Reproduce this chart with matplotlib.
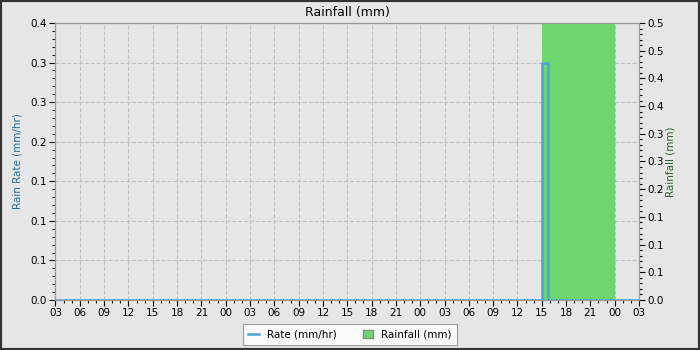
import matplotlib
matplotlib.use('Agg')
import matplotlib.pyplot as plt
from matplotlib.ticker import MultipleLocator, FixedLocator
from matplotlib.patches import Patch
from matplotlib.lines import Line2D

# hours since 03:00 on the first day
rate_hours = [0, 60.0, 60.75, 72]
rate_values = [0.0, 0.3, 0.0, 0.0]
rain_hours = [0, 60.05, 69.0, 69.1, 72]
rain_values = [0.0, 0.5, 0.25, 0.0, 0.0]

x_tick_labels = ['03', '06', '09', '12', '15', '18', '21', '00'] * 3 + ['03']
left_ticks = [0.0, 0.05, 0.1, 0.15, 0.2, 0.25, 0.3, 0.35]
left_labels = ['0.0', '0.1', '0.1', '0.1', '0.2', '0.3', '0.3', '0.4']
right_ticks = [0.0, 0.05, 0.1, 0.15, 0.2, 0.25, 0.3, 0.35, 0.4, 0.45, 0.5]
right_labels = ['0.0', '0.1', '0.1', '0.1', '0.2', '0.3', '0.3', '0.4', '0.4', '0.5', '0.5']

bg = '#e6e6e6'
blue = '#4ba3da'
green = '#6fd66f'

plt.rcParams['font.family'] = ['DejaVu Sans']
plt.rcParams['font.size'] = 7

fig = plt.figure(figsize=(7, 3.5), dpi=100, facecolor=bg)
ax = fig.add_axes([55.5/700, 50/350, 583.5/700, 277/350])
ax.set_facecolor(bg)
ax2 = ax.twinx()

# rainfall fill on the right axis, rate line on top (in left-axis units)
ax2.fill_between(rain_hours, rain_values, step='post', color=green, lw=0, zorder=2)
ax2.step(rate_hours, rate_values, where='post', color=blue, lw=1.8, zorder=3,
         transform=ax.transData)

ax.set_xlim(0, 72)
ax.set_ylim(0, 0.35)
ax2.set_ylim(0, 0.5)

ax.set_xticks(range(0, 73, 3))
ax.set_xticklabels(x_tick_labels)
ax.xaxis.set_minor_locator(MultipleLocator(1))
ax.yaxis.set_major_locator(FixedLocator(left_ticks))
ax.set_yticklabels(left_labels)
ax.yaxis.set_minor_locator(MultipleLocator(0.01))
ax2.yaxis.set_major_locator(FixedLocator(right_ticks))
ax2.set_yticklabels(right_labels)
ax2.yaxis.set_minor_locator(MultipleLocator(0.01))

for a in (ax, ax2):
    a.tick_params(which='major', length=4, width=0.8, color='black', labelsize=7.5, pad=2)
    a.tick_params(which='minor', length=2, width=0.8, color='black')
    for s in a.spines.values():
        s.set_color('#999999')

ax.grid(True, which='major', linestyle='--', color='#c0c0c0', lw=0.8)
ax.set_axisbelow(True)

ax.set_title('Rainfall (mm)', fontsize=9, pad=5)
ax.set_ylabel('Rain Rate (mm/hr)', color='#1f6fa0', fontsize=7.5, labelpad=6)
ax2.set_ylabel('Rainfall (mm)', color='#1f6b1f', fontsize=7.5, labelpad=1)

handles = [Line2D([], [], color=blue, lw=1.8),
           Patch(facecolor=green, edgecolor='#888888')]
leg = fig.legend(handles, ['Rate (mm/hr)', 'Rainfall (mm)'], loc='lower center',
                 bbox_to_anchor=(0.5, 0.0), ncol=2, fontsize=7.5, frameon=True,
                 fancybox=False, edgecolor='#888888', facecolor='white',
                 handlelength=1.0, columnspacing=2.5, borderpad=0.5)
leg.get_frame().set_linewidth(0.8)

fig.patches.append(plt.Rectangle((0, 0), 1, 1, transform=fig.transFigure,
                                 fill=False, edgecolor='#333333', lw=3))

fig.savefig('out.png', dpi=100, facecolor=bg)
